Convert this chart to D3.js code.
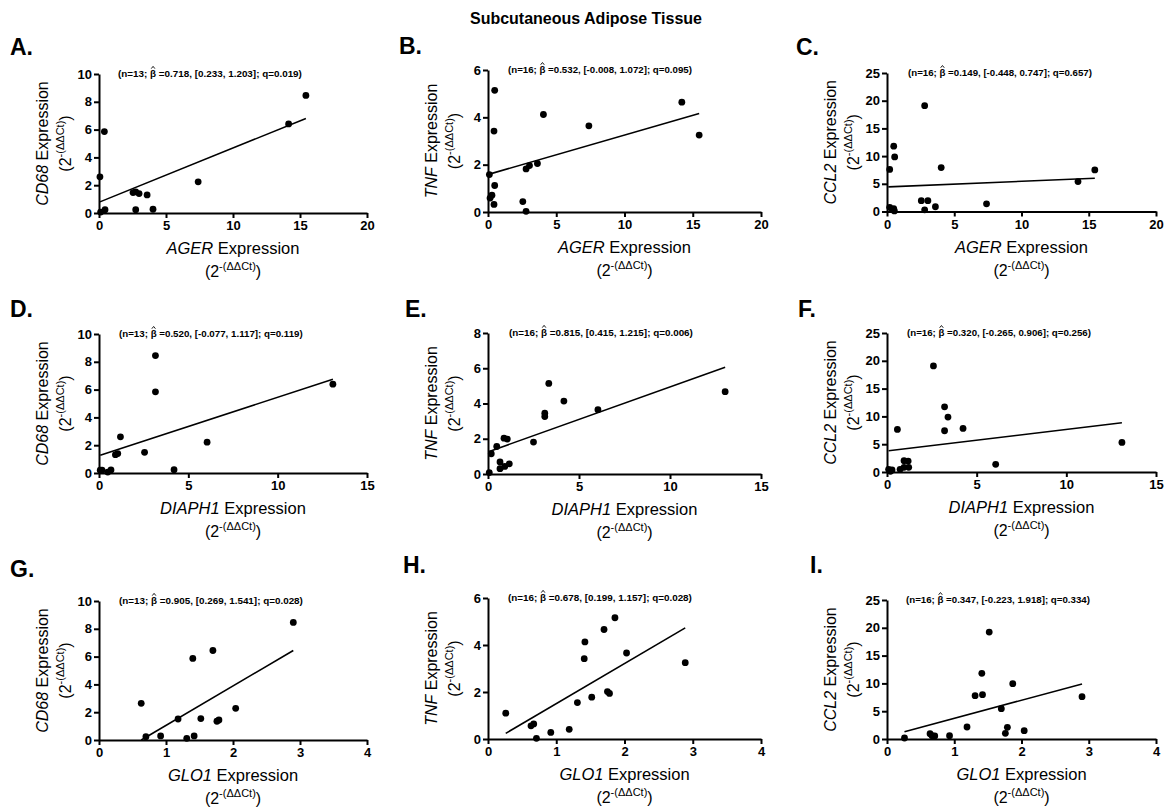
<!DOCTYPE html>
<html>
<head>
<meta charset="utf-8">
<script src="https://cdn.jsdelivr.net/npm/d3@7"></script>
<style>
	body { margin: 0; background: #fff; }
	svg { font-family: "Liberation Sans", Arial, sans-serif; }
</style>
</head>
<body>
<div id="chart"></div>
<script>

// Data: each point is [x expression, y expression]
var cd68VsAger = [[0.07,2.6],[0.12,0.07],[0.45,0.24],[0.4,5.86],[2.54,1.47],[2.74,1.52],[2.99,1.4],[3.59,1.3],[2.74,0.24],[4.03,0.27],[7.4,2.24],[14.15,6.41],[15.44,8.46]];
var tnfVsAger = [[0.1,1.58],[0.15,0.59],[0.29,0.71],[0.49,5.14],[0.44,3.42],[0.49,1.12],[0.44,0.32],[2.55,0.44],[2.79,0.03],[2.79,1.82],[3.04,1.96],[3.62,2.05],[4.06,4.12],[7.39,3.64],[14.2,4.64],[15.47,3.25]];
var ccl2VsAger = [[0.2,7.6],[0.2,0.75],[0.4,0.35],[0.5,0.5],[0.55,0.1],[0.5,11.8],[0.57,9.85],[2.55,1.95],[2.8,0.31],[2.8,19.1],[3.04,1.95],[3.6,0.86],[4.03,7.92],[7.4,1.38],[14.2,5.4],[15.45,7.5]];
var cd68VsDiaph1 = [[0.07,0.2],[0.17,0.2],[0.49,0.07],[0.67,0.22],[0.92,1.32],[1.05,1.4],[1.2,2.6],[2.55,1.49],[3.16,8.45],[3.16,5.84],[4.2,0.24],[6.05,2.22],[13.09,6.39]];
var tnfVsDiaph1 = [[0.07,0.08],[0.18,1.15],[0.48,1.56],[0.66,0.68],[0.66,0.3],[0.92,0.43],[0.88,2.03],[1.06,1.98],[1.17,0.58],[2.5,1.81],[3.12,3.45],[3.12,3.26],[3.34,5.14],[4.17,4.14],[6.04,3.65],[13.03,4.67]];
var ccl2VsDiaph1 = [[0.09,0.48],[0.19,0.12],[0.28,0.36],[0.58,7.66],[0.73,0.48],[0.95,2.03],[0.95,0.84],[1.18,1.97],[1.21,0.84],[2.59,19.08],[3.21,11.72],[3.21,7.42],[3.4,9.87],[4.24,7.83],[6.06,1.38],[13.1,5.32]];
var cd68VsGlo1 = [[0.63,2.64],[0.7,0.24],[0.92,0.29],[1.18,1.51],[1.31,0.12],[1.4,5.87],[1.42,0.29],[1.52,1.54],[1.7,6.44],[1.76,1.35],[1.79,1.44],[2.04,2.28],[2.9,8.46]];
var tnfVsGlo1 = [[0.26,1.1],[0.63,0.56],[0.67,0.64],[0.71,0.03],[0.92,0.28],[1.19,0.41],[1.31,1.55],[1.41,3.42],[1.42,4.13],[1.52,1.78],[1.7,4.66],[1.75,2.02],[1.78,1.94],[1.86,5.16],[2.03,3.66],[2.89,3.25]];
var ccl2VsGlo1 = [[0.26,0.18],[0.64,0.96],[0.67,0.6],[0.71,0.54],[0.93,0.6],[1.19,2.16],[1.31,7.79],[1.41,11.81],[1.42,7.97],[1.52,19.24],[1.7,5.46],[1.76,1.02],[1.79,2.1],[1.87,9.95],[2.04,1.5],[2.9,7.61]];

// Regression line ends, [x1, y1, x2, y2], panels A..I
var fitLines = [[0.07,0.8,15.44,6.8],[0.1,1.6,15.47,4.16],[0.1,4.45,15.45,6.0],
	[0.07,1.27,13.09,6.75],[0.07,1.28,13.03,6.05],[0.09,3.83,13.1,8.85],
	[0.63,0.0,2.9,6.44],[0.26,0.24,2.89,4.73],[0.26,1.32,2.9,9.89]];

// the beta gets its hat drawn separately
var statLabels = [
	"(n=13; \u03B2 =0.718, [0.233, 1.203]; q=0.019)",
	"(n=16; \u03B2 =0.532, [-0.008, 1.072]; q=0.095)",
	"(n=16; \u03B2 =0.149, [-0.448, 0.747]; q=0.657)",
	"(n=13; \u03B2 =0.520, [-0.077, 1.117]; q=0.119)",
	"(n=16; \u03B2 =0.815, [0.415, 1.215]; q=0.006)",
	"(n=16; \u03B2 =0.320, [-0.265, 0.906]; q=0.256)",
	"(n=13; \u03B2 =0.905, [0.269, 1.541]; q=0.028)",
	"(n=16; \u03B2 =0.678, [0.199, 1.157]; q=0.028)",
	"(n=16; \u03B2 =0.347, [-0.223, 1.918]; q=0.334)"];

var panelLetters = ["A.", "B.", "C.", "D.", "E.", "F.", "G.", "H.", "I."];
var rowGenes = ["AGER", "DIAPH1", "GLO1"];
var colGenes = ["CD68", "TNF", "CCL2"];
var rowXMax = [20, 15, 4];
var rowXTicks = [[0,5,10,15,20],[0,5,10,15],[0,1,2,3,4]];
// E uses a different y range from the rest of the TNF column
var panelYMax = [10, 6, 25, 10, 8, 25, 10, 6, 25];
var panelYTicks = [[0,2,4,6,8,10],[0,2,4,6],[0,5,10,15,20,25],
	[0,2,4,6,8,10],[0,2,4,6,8],[0,5,10,15,20,25],
	[0,2,4,6,8,10],[0,2,4,6],[0,5,10,15,20,25]];

var panelData = [cd68VsAger, tnfVsAger, ccl2VsAger, cd68VsDiaph1, tnfVsDiaph1, ccl2VsDiaph1, cd68VsGlo1, tnfVsGlo1, ccl2VsGlo1];

// Layout (pixels)
var colLeft = [99, 488, 887];
var colRight = [367, 761, 1156];
var panelTop = [74, 70, 73, 334, 333, 333, 601, 598, 600];
var panelBottom = [213, 212, 211.5, 473, 474, 472, 740, 739, 739];
var letterPos = [[10,55],[399,54],[796,55],[10,317],[405,317],[798,317],[10,577],[403,573],[810,573]];
var statOffset = [19, 20, 21, 20, 21, 20, 20, 20, 19];

var svg = d3.select("#chart").append("svg")
	.attr("width", 1169)
	.attr("height", 812);

svg.append("text")
	.attr("x", 586)
	.attr("y", 24)
	.attr("text-anchor", "middle")
	.style("font-weight", "bold")
	.style("font-size", "16px")
	.text("Subcutaneous Adipose Tissue");

function exprLine(sel){
	sel.append("tspan").text("(2");
	sel.append("tspan").attr("dy", -7).style("font-size", "11px").text("-(\u0394\u0394Ct)");
	sel.append("tspan").attr("dy", 7).text(")");
}

function drawStats(g, i, left, top){
	var parts = statLabels[i].split("\u03B2");
	var baseY = top + 3;
	var st = g.append("text")
		.attr("x", left + statOffset[i])
		.attr("y", baseY)
		.style("font-weight", "bold")
		.style("font-size", "9px");
	st.append("tspan").text(parts[0]);
	st.append("tspan").text("\u03B2");
	st.append("tspan").text(parts[1]);

	// squeeze to the width seen in the figure
	var len = st.node().getComputedTextLength();
	var fs = 9 * 184 / len;
	st.style("font-size", fs + "px");

	// hat over the beta
	var ext = st.node().getExtentOfChar(parts[0].length);
	var cx = ext.x + ext.width / 2;
	g.append("path")
		.attr("d", d3.line()([[cx - 1.8, baseY - fs * 0.85], [cx, baseY - fs * 1.08], [cx + 1.8, baseY - fs * 0.85]]))
		.attr("fill", "none")
		.attr("stroke", "#000")
		.attr("stroke-width", 0.9);
}

function drawPanel(i){
	var row = Math.floor(i / 3), col = i % 3;
	var left = colLeft[col], right = colRight[col];
	var top = panelTop[i], bottom = panelBottom[i];

	var x = d3.scaleLinear().domain([0, rowXMax[row]]).range([left, right]);
	var y = d3.scaleLinear().domain([0, panelYMax[i]]).range([bottom, top]);

	var g = svg.append("g");

	// panel letter
	g.append("text")
		.attr("x", letterPos[i][0])
		.attr("y", letterPos[i][1])
		.style("font-weight", "bold")
		.style("font-size", "23px")
		.text(panelLetters[i]);

	var xAxis = g.append("g")
		.attr("transform", "translate(0," + bottom + ")")
		.call(d3.axisBottom(x).tickValues(rowXTicks[row]).tickSize(5).tickSizeOuter(0).tickFormat(d3.format("d")));
	var yAxis = g.append("g")
		.attr("transform", "translate(" + left + ",0)")
		.call(d3.axisLeft(y).tickValues(panelYTicks[i]).tickSize(5).tickSizeOuter(0).tickFormat(d3.format("d")));

	[xAxis, yAxis].forEach(function(a){
		a.select(".domain").attr("stroke", "#000").attr("stroke-width", 2);
		a.selectAll(".tick line").attr("stroke", "#000").attr("stroke-width", 2);
		a.selectAll(".tick text")
			.attr("fill", "#000")
			.style("font-family", "'Liberation Sans', Arial, sans-serif")
			.style("font-weight", "bold")
			.style("font-size", "13px");
	});
	xAxis.selectAll(".tick text").attr("y", 8);
	yAxis.selectAll(".tick text").attr("x", -7);

	drawStats(g, i, left, top);

	// regression line
	var f = fitLines[i];
	g.append("line")
		.attr("x1", x(f[0])).attr("y1", y(f[1]))
		.attr("x2", x(f[2])).attr("y2", y(f[3]))
		.attr("stroke", "#000")
		.attr("stroke-width", 1.6);

	g.selectAll("circle.pt")
		.data(panelData[i])
		.enter().append("circle")
		.attr("class", "pt")
		.attr("cx", function(d){ return x(d[0]); })
		.attr("cy", function(d){ return y(d[1]); })
		.attr("r", 3.4)
		.attr("fill", "#000");

	// x title
	var midX = (left + right) / 2;
	var xt = g.append("text")
		.attr("x", midX)
		.attr("y", bottom + 41)
		.attr("text-anchor", "middle")
		.style("font-size", "16.5px");
	xt.append("tspan").style("font-style", "italic").text(rowGenes[row]);
	xt.append("tspan").text(" Expression");

	var xt2 = g.append("text")
		.attr("x", midX)
		.attr("y", bottom + 64)
		.attr("text-anchor", "middle")
		.style("font-size", "16px");
	exprLine(xt2);

	// y title
	var midY = (top + bottom) / 2;
	var yt = g.append("text")
		.attr("transform", "translate(" + (left - 51) + "," + midY + ") rotate(-90)")
		.attr("text-anchor", "middle")
		.style("font-size", "16px");
	yt.append("tspan").style("font-style", "italic").text(colGenes[col]);
	yt.append("tspan").text(" Expression");

	var yt2 = g.append("text")
		.attr("transform", "translate(" + (left - 28) + "," + midY + ") rotate(-90)")
		.attr("text-anchor", "middle")
		.style("font-size", "16px");
	exprLine(yt2);
}

for(var i = 0; i < 9; i++){
	drawPanel(i);
}

</script>
</body>
</html>
